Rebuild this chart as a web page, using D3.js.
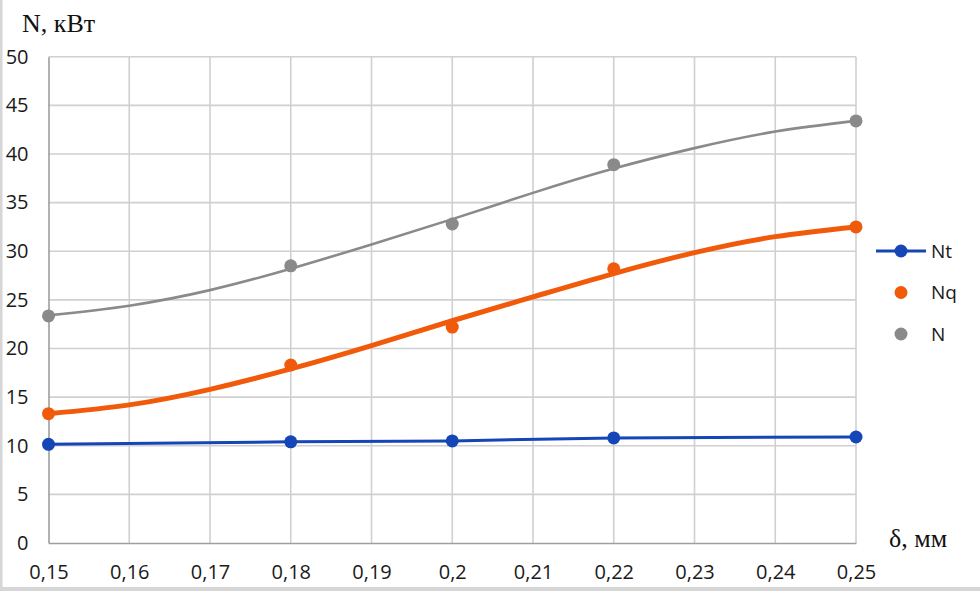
<!DOCTYPE html>
<html>
<head>
<meta charset="utf-8">
<script src="https://cdn.jsdelivr.net/npm/d3@7"></script>
<style>
html,body{margin:0;padding:0;background:#fff;}
svg{display:block;}
</style>
</head>
<body>
<svg id="chart" width="980" height="591"></svg>
<script>
// ---- data ----
const delta = [0.15, 0.18, 0.20, 0.22, 0.25];
const Nt = [10.15, 10.4, 10.5, 10.8, 10.9];
const Nq = [13.3, 18.3, 22.2, 28.2, 32.5];
const N  = [23.35, 28.5, 32.8, 38.9, 43.4];
// polynomial trend lines, at each 0.01 step
const trendX  = [0.15, 0.16, 0.17, 0.18, 0.19, 0.20, 0.21, 0.22, 0.23, 0.24, 0.25];
const NqTrend = [13.3, 14.2, 15.8, 17.9, 20.3, 22.85, 25.3, 27.7, 29.85, 31.5, 32.5];
const NTrend  = [23.4, 24.4, 26.0, 28.2, 30.7, 33.3, 36.0, 38.5, 40.6, 42.3, 43.4];
const xTicks = [0.15, 0.16, 0.17, 0.18, 0.19, 0.20, 0.21, 0.22, 0.23, 0.24, 0.25];
const yTicks = [0, 5, 10, 15, 20, 25, 30, 35, 40, 45, 50];
const seriesNames = ["Nt", "Nq", "N"];
const colors = {Nt: "#1446b8", Nq: "#f05a0a", N: "#8a8a8a"};

const svg = d3.select("#chart");
const x = d3.scaleLinear().domain([0.15, 0.25]).range([48.5, 856]);
const y = d3.scaleLinear().domain([0, 50]).range([543, 56.7]);

// outer frame strips
svg.append("rect").attr("x", 0).attr("y", 0).attr("width", 2.5).attr("height", 591).attr("fill", "#d6d6d6");
svg.append("rect").attr("x", 0).attr("y", 587).attr("width", 980).attr("height", 4).attr("fill", "#d6d6d6");

// grid
const grid = svg.append("g");
grid.selectAll("line.v").data(xTicks.slice(1)).enter().append("line")
  .attr("x1", d => x(d)).attr("x2", d => x(d))
  .attr("y1", y(0)).attr("y2", y(50))
  .attr("stroke", "#d0d0d0").attr("stroke-width", 1.6);
grid.selectAll("line.h").data(yTicks.slice(1)).enter().append("line")
  .attr("x1", x(0.15)).attr("x2", x(0.25))
  .attr("y1", d => y(d)).attr("y2", d => y(d))
  .attr("stroke", "#d0d0d0").attr("stroke-width", 1.6);

// axes
const fontSans = "'Open Sans', 'Liberation Sans', sans-serif";
const yAxis = svg.append("g").attr("transform", `translate(${x(0.15)},0)`)
  .call(d3.axisLeft(y).tickValues(yTicks).tickSize(0).tickPadding(20).tickFormat(d3.format("d")));
yAxis.select(".domain").attr("stroke", "#9e9e9e").attr("stroke-width", 1.6);
yAxis.selectAll("text").attr("font-family", fontSans).attr("font-size", 20).attr("fill", "#1a1a1a");

const fmt = d => String(+d.toFixed(2)).replace(".", ",");
const xAxis = svg.append("g").attr("transform", `translate(0,${y(0)})`)
  .call(d3.axisBottom(x).tickValues(xTicks).tickSize(0).tickPadding(22).tickFormat(fmt));
xAxis.select(".domain").attr("stroke", "#9e9e9e").attr("stroke-width", 1.6);
xAxis.selectAll("text").attr("font-family", fontSans).attr("font-size", 20).attr("fill", "#1a1a1a");

// axis titles
const fontSerif = "'Liberation Serif', 'Times New Roman', serif";
svg.append("text").attr("x", 22).attr("y", 32).attr("font-family", fontSerif)
  .attr("font-size", 26).attr("fill", "#111").text("N, кВт");
svg.append("text").attr("x", 889).attr("y", 547).attr("font-family", fontSerif)
  .attr("font-size", 26).attr("fill", "#111").text("δ, мм");

// trend lines
const line = d3.line().x(d => x(d[0])).y(d => y(d[1])).curve(d3.curveNatural);
const plot = svg.append("g");

// markers N and Nq
plot.selectAll("circle.n").data(delta.map((d, i) => [d, N[i]])).enter().append("circle")
  .attr("cx", d => x(d[0])).attr("cy", d => y(d[1])).attr("r", 6.5).attr("fill", colors.N);
plot.selectAll("circle.nq").data(delta.map((d, i) => [d, Nq[i]])).enter().append("circle")
  .attr("cx", d => x(d[0])).attr("cy", d => y(d[1])).attr("r", 6.5).attr("fill", colors.Nq);

plot.append("path").datum(trendX.map((d, i) => [d, NTrend[i]]))
  .attr("d", line).attr("fill", "none").attr("stroke", colors.N).attr("stroke-width", 2.6);
plot.append("path").datum(trendX.map((d, i) => [d, NqTrend[i]]))
  .attr("d", line).attr("fill", "none").attr("stroke", colors.Nq).attr("stroke-width", 5);

// Nt line + markers
const ntLine = d3.line().x(d => x(d[0])).y(d => y(d[1]));
plot.append("path").datum(delta.map((d, i) => [d, Nt[i]]))
  .attr("d", ntLine).attr("fill", "none").attr("stroke", colors.Nt).attr("stroke-width", 3);
plot.selectAll("circle.nt").data(delta.map((d, i) => [d, Nt[i]])).enter().append("circle")
  .attr("cx", d => x(d[0])).attr("cy", d => y(d[1])).attr("r", 6.5).attr("fill", colors.Nt);

// legend
const legendY = d3.scalePoint().domain(seriesNames).range([251, 334]);
const lg = svg.append("g");
lg.append("line").attr("x1", 876).attr("x2", 926).attr("y1", legendY("Nt")).attr("y2", legendY("Nt"))
  .attr("stroke", colors.Nt).attr("stroke-width", 3);
seriesNames.forEach(s => {
  lg.append("circle").attr("cx", 901).attr("cy", legendY(s)).attr("r", 6.5).attr("fill", colors[s]);
  lg.append("text").attr("x", 931).attr("y", legendY(s)).attr("dy", "0.35em")
    .attr("font-family", fontSans).attr("font-size", 19).attr("fill", "#1a1a1a").text(s);
});
</script>
</body>
</html>
